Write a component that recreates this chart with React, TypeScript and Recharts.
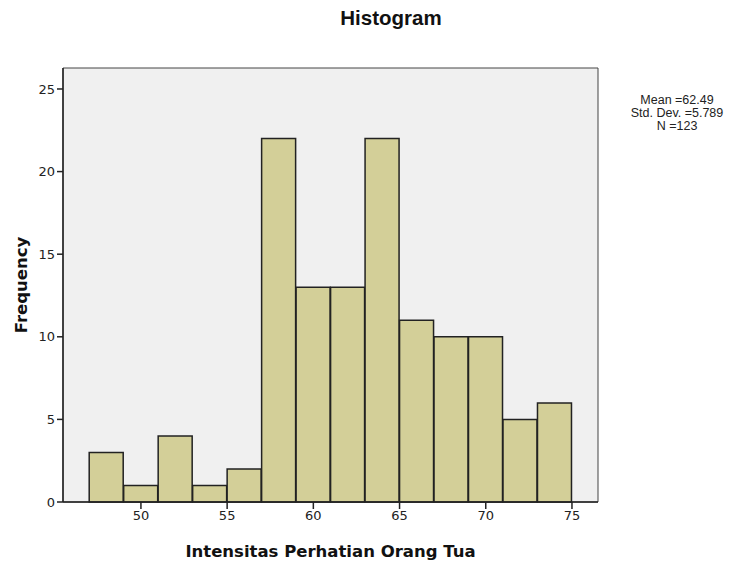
import { Bar, CartesianGrid, ComposedChart, ReferenceArea, XAxis, YAxis } from 'recharts'

const binCenters = [48, 50, 52, 54, 56, 58, 60, 62, 64, 66, 68, 70, 72, 74]
const frequencies = [3, 1, 4, 1, 2, 22, 13, 13, 22, 11, 10, 10, 5, 6]
const xTicks = [50, 55, 60, 65, 70, 75]
const yTicks = [0, 5, 10, 15, 20, 25]
const statLines = ['Mean =62.49', 'Std. Dev. =5.789', 'N =123']

const xDomain = [45.48, 76.51]
const yDomain = [0, 26.27]

const data = binCenters.map((x, i) => ({ x, freq: frequencies[i] }))

const arial = 'Liberation Sans, Arial, sans-serif'
const verdana = 'DejaVu Sans, Verdana, sans-serif'
const tickStyle = { fill: '#222', fontSize: 13, fontFamily: verdana }

export default function App() {
  return (
    <div style={{ position: 'absolute', left: 0, top: 0, width: 747, height: 563, background: '#fff' }}>
      <ComposedChart
        width={747}
        height={563}
        data={data}
        margin={{ top: 68, right: 149, left: 0, bottom: 0 }}
        barCategoryGap={0}
        barGap={0}
      >
        <CartesianGrid fill="#f0f0f0" horizontal={false} vertical={false} />
        <XAxis
          dataKey="x"
          type="number"
          domain={xDomain}
          ticks={xTicks}
          height={61}
          tick={tickStyle}
          tickSize={7}
          tickLine={{ stroke: '#222', strokeWidth: 1.5 }}
          axisLine={{ stroke: '#222', strokeWidth: 1.5 }}
          label={{ value: 'Intensitas Perhatian Orang Tua', position: 'insideBottom', offset: 6, style: { fontSize: 16.5, fontWeight: 'bold', fill: '#111', fontFamily: verdana } }}
        />
        <YAxis
          type="number"
          domain={yDomain}
          ticks={yTicks}
          width={63}
          tick={tickStyle}
          tickSize={6}
          tickLine={{ stroke: '#222', strokeWidth: 1.5 }}
          axisLine={{ stroke: '#222', strokeWidth: 1.5 }}
          label={{ value: 'Frequency', angle: -90, position: 'insideLeft', offset: 21, style: { fontSize: 16.5, fontWeight: 'bold', fill: '#111', textAnchor: 'middle', fontFamily: verdana } }}
        />
        <ReferenceArea x1={xDomain[0]} x2={xDomain[1]} y1={yDomain[0]} y2={yDomain[1]} fill="none" stroke="#444" strokeWidth={1} />
        <Bar dataKey="freq" fill="#d3cf98" stroke="#222" strokeWidth={1.5} isAnimationActive={false} />
        <text x={391} y={25} textAnchor="middle" fontSize={20.5} fontWeight="bold" fill="#111" fontFamily={arial}>
          Histogram
        </text>
        {statLines.map((s, i) => (
          <text key={s} x={677} y={104 + i * 13} textAnchor="middle" fontSize={12.5} fill="#222" fontFamily={arial}>
            {s}
          </text>
        ))}
      </ComposedChart>
    </div>
  )
}
